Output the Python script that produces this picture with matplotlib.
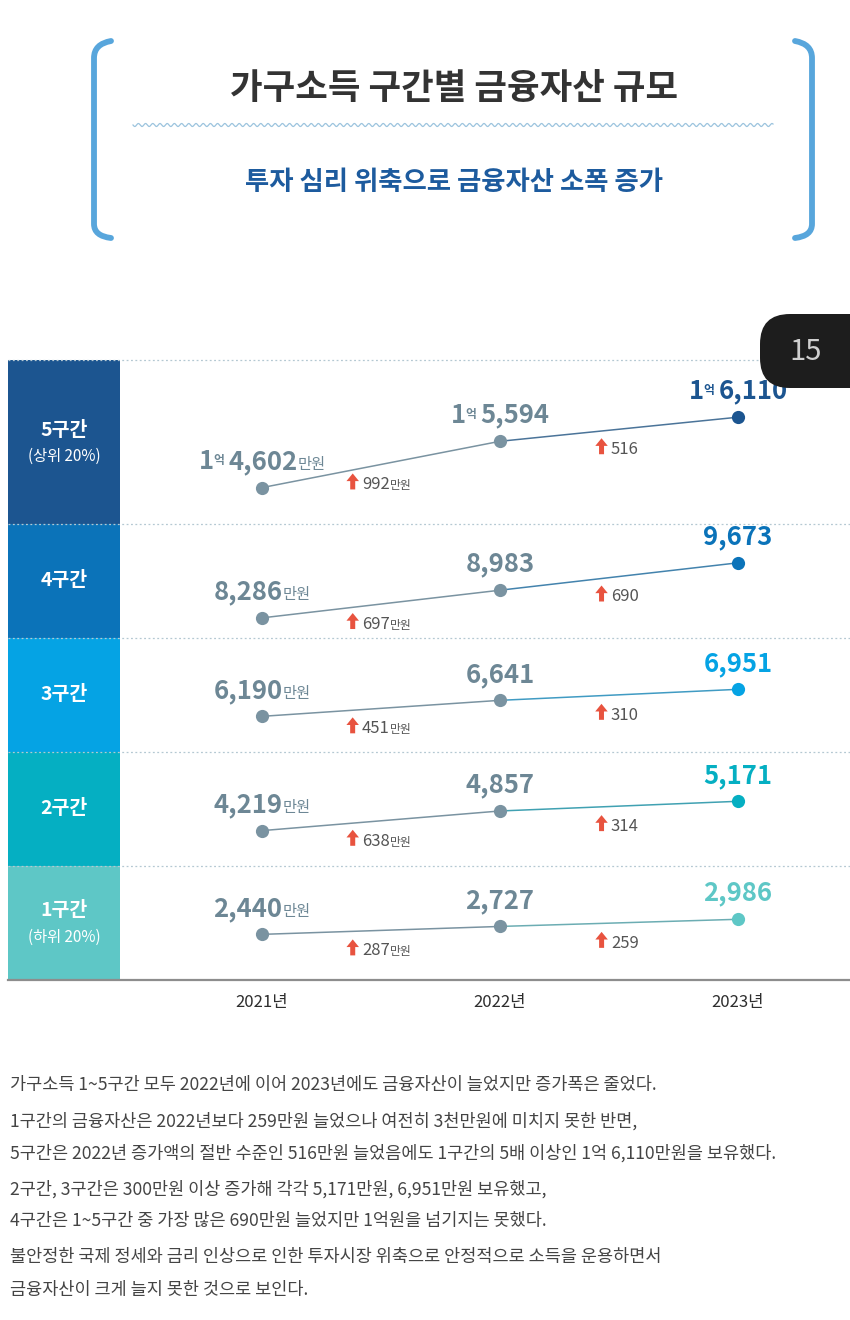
import matplotlib
matplotlib.use('Agg')
import matplotlib.pyplot as plt
import numpy as np
from matplotlib.offsetbox import TextArea, HPacker, DrawingArea, AnnotationBbox
from matplotlib.patches import Polygon, Rectangle, FancyBboxPatch, PathPatch
from matplotlib.path import Path
from matplotlib.text import Text
from matplotlib.colors import to_rgb

plt.rcParams['font.family'] = ['Noto Sans CJK KR', 'DejaVu Sans']

# ---- data (단위: 만원) ----
groups = ['5구간', '4구간', '3구간', '2구간', '1구간']
group_notes = ['(상위 20%)', '', '', '', '(하위 20%)']
years = ['2021년', '2022년', '2023년']
assets_2021 = [14602, 8286, 6190, 4219, 2440]
assets_2022 = [15594, 8983, 6641, 4857, 2727]
assets_2023 = [16110, 9673, 6951, 5171, 2986]

title = '가구소득 구간별 금융자산 규모'
subtitle = '투자 심리 위축으로 금융자산 소폭 증가'
notes = [
    '가구소득 1~5구간 모두 2022년에 이어 2023년에도 금융자산이 늘었지만 증가폭은 줄었다.',
    '1구간의 금융자산은 2022년보다 259만원 늘었으나 여전히 3천만원에 미치지 못한 반면,',
    '5구간은 2022년 증가액의 절반 수준인 516만원 늘었음에도 1구간의 5배 이상인 1억 6,110만원을 보유했다.',
    '2구간, 3구간은 300만원 이상 증가해 각각 5,171만원, 6,951만원 보유했고,',
    '4구간은 1~5구간 중 가장 많은 690만원 늘었지만 1억원을 넘기지는 못했다.',
    '불안정한 국제 정세와 금리 인상으로 인한 투자시장 위축으로 안정적으로 소득을 운용하면서',
    '금융자산이 크게 늘지 못한 것으로 보인다.',
]

# ---- layout (pixels) ----
W, H = 850, 1320
row_bounds = [(360, 524), (524, 638), (638, 752), (752, 866), (866, 980)]
row_colors = ['#1c5590', '#0b73b9', '#05a3e4', '#05afc2', '#5ec7c6']
row_scale = [0.0467, 0.0397, 0.0355, 0.0308, 0.0276]     # px per 만원
row_mid_px = [448.7, 590.3, 702.0, 814.3, 926.7]
note_y = [1085, 1121, 1153, 1189, 1221, 1257, 1290]
gray_pt = '#7a93a1'
gray_txt = '#6d8795'
up_red = '#e8533f'
px = 0.72  # px -> pt

fig = plt.figure(figsize=(W / 100, H / 100), dpi=100)
fig.patch.set_facecolor('white')

bg = fig.add_axes([0, 0, 1, 1])
bg.set_xlim(0, W)
bg.set_ylim(H, 0)
bg.axis('off')


# header bracket
def bracket(x0, sign):
    verts = [(x0 + sign * 17, 41), (x0, 44), (x0, 58), (x0, 224), (x0, 236), (x0 + sign * 17, 238)]
    codes = [Path.MOVETO, Path.CURVE3, Path.CURVE3, Path.LINETO, Path.CURVE3, Path.CURVE3]
    bg.add_patch(PathPatch(Path(verts, codes), fc='none', ec='#58a6dc', lw=4.2,
                           capstyle='round', joinstyle='round'))


bracket(94, 1)
bracket(812, -1)
bg.text(454, 88, title, ha='center', va='center', fontsize=25.5, fontweight='bold', color='#333333')
wx = np.linspace(133, 773, 1200)
bg.plot(wx, 125 + 1.5 * np.sin((wx - 133) / 7.2 * 2 * np.pi), color='#9cc4de', lw=0.9)
bg.text(454, 183, subtitle, ha='center', va='center', fontsize=19, fontweight='bold', color='#1d5b9e')

# row label boxes and separators
for k, (top, bot) in enumerate(row_bounds):
    bg.add_patch(Rectangle((8, top), 112, bot - top, fc=row_colors[k], ec='none'))
    cy = (top + bot) / 2
    if group_notes[k]:
        bg.text(64, cy - 12, groups[k], ha='center', va='center', fontsize=14,
                fontweight='bold', color='white')
        bg.text(64, cy + 14, group_notes[k], ha='center', va='center', fontsize=11, color='white')
    else:
        bg.text(64, cy, groups[k], ha='center', va='center', fontsize=14,
                fontweight='bold', color='white')
    bg.plot([8, W], [top, top], color='#b4c8d2', lw=0.9, ls=(0, (1.5, 2)))
bg.plot([8, W], [980, 980], color='#8d8d8d', lw=1.6)

# explanatory text
for y, line in zip(note_y, notes):
    bg.text(10, y, line, ha='left', va='center', fontsize=12.6, color='#444444')


def value_box(v, color, unit):
    kw = dict(color=color, fontweight='bold')
    parts = []
    if v >= 10000:
        parts.append(TextArea(str(v // 10000), textprops=dict(fontsize=18.5, **kw)))
        eok = DrawingArea(10.5, 13, 0, 0)
        eok.add_artist(Text(-0.5, 3.5, '억', fontsize=8.5, va='baseline', ha='left', **kw))
        parts.append(eok)
        rest = f'{v % 10000:,}'
    else:
        rest = f'{v:,}'
    parts.append(TextArea(rest, textprops=dict(fontsize=18.5, **kw)))
    if unit:
        parts.append(TextArea('만원', textprops=dict(fontsize=11, color=color)))
    return HPacker(children=parts, align='baseline', pad=0, sep=0)


def diff_box(d, unit):
    da = DrawingArea(9, 11.5, 0, 0)
    da.add_artist(Polygon([[0, 6], [4.5, 11.5], [9, 6], [6.3, 6], [6.3, 0], [2.7, 0], [2.7, 6]],
                          closed=True, fc=up_red, ec='none'))
    num = HPacker(children=[TextArea(f'{d:,}', textprops=dict(fontsize=12, color='#555555'))]
                  + ([TextArea('만원', textprops=dict(fontsize=8.5, color='#555555'))] if unit else []),
                  align='baseline', pad=0, sep=0)
    return HPacker(children=[da, num], align='baseline', pad=0, sep=2.2)


# x positions: 2021 -> 262px, step 238px, axes spans 120..850
x_lo = (120 - 262) / 238
x_hi = (850 - 262) / 238

for k, (top, bot) in enumerate(row_bounds):
    vals = [assets_2021[k], assets_2022[k], assets_2023[k]]
    ax = fig.add_axes([120 / W, 1 - bot / H, (W - 120) / W, (bot - top) / H])
    ax.set_facecolor('none')
    mv = np.mean(vals)
    s = row_scale[k]
    ax.set_xlim(x_lo, x_hi)
    ax.set_ylim(mv - (bot - row_mid_px[k]) / s, mv + (row_mid_px[k] - top) / s)
    for sp in ax.spines.values():
        sp.set_visible(False)
    ax.set_yticks([])
    if k == len(row_bounds) - 1:
        ax.set_xticks(range(len(years)), years)
        ax.tick_params(axis='x', length=0, pad=14 * px, labelsize=12, labelcolor='#2e2e2e')
        for lab in ax.get_xticklabels():
            lab.set_fontweight('medium')
    else:
        ax.set_xticks([])

    c = row_colors[k]
    mix = tuple(0.5 * a + 0.5 * b for a, b in zip(to_rgb(gray_pt), to_rgb(c)))
    ax.plot([0, 1], vals[:2], color=gray_pt, lw=1.1, zorder=2)
    ax.plot([1, 2], vals[1:], color=mix, lw=1.1, zorder=2)
    ax.scatter([0, 1], vals[:2], s=9.5 ** 2, color=gray_pt, zorder=3, linewidths=0)
    ax.scatter([2], vals[2:], s=9.5 ** 2, color=c, zorder=3, linewidths=0)

    for i, v in enumerate(vals):
        col = c if i == 2 else gray_txt
        ab = AnnotationBbox(value_box(v, col, i == 0), (i, v), xybox=(0, 26 * px),
                            xycoords='data', boxcoords='offset points', frameon=False,
                            box_alignment=(0.5, 0.5), annotation_clip=False)
        ax.add_artist(ab)
    for i in range(2):
        d = vals[i + 1] - vals[i]
        ab = AnnotationBbox(diff_box(d, i == 0), (i + 0.5, (vals[i] + vals[i + 1]) / 2),
                            xybox=(-2 * px, -19 * px), xycoords='data', boxcoords='offset points',
                            frameon=False, box_alignment=(0.5, 0.5), annotation_clip=False)
        ax.add_artist(ab)

# page badge
ov = fig.add_axes([0, 0, 1, 1])
ov.set_xlim(0, W)
ov.set_ylim(H, 0)
ov.axis('off')
ov.set_facecolor('none')
ov.add_patch(FancyBboxPatch((760, 314), 140, 74, boxstyle='round,pad=0,rounding_size=30',
                            fc='#1d1d1d', ec='none'))
ov.text(806, 352, '15', ha='center', va='center', fontsize=21, color='#cfcfcf')

fig.savefig('out.png', dpi=100, facecolor='white')
